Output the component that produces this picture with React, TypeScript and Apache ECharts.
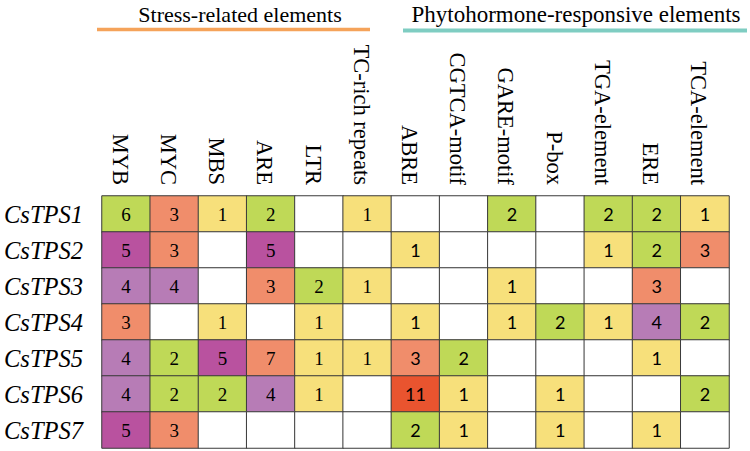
import React, { useEffect, useRef } from "react";
import * as echarts from "echarts";

const genes = ["CsTPS1", "CsTPS2", "CsTPS3", "CsTPS4", "CsTPS5", "CsTPS6", "CsTPS7"];
const stressElements = ["MYB", "MYC", "MBS", "ARE", "LTR", "TC-rich repeats"];
const hormoneElements = ["ABRE", "CGTCA-motif", "GARE-motif", "P-box", "TGA-element", "ERE", "TCA-element"];

// 0 = element absent (blank cell)
const stressCounts = [
  [6, 3, 1, 2, 0, 1],
  [5, 3, 0, 5, 0, 0],
  [4, 4, 0, 3, 2, 1],
  [3, 0, 1, 0, 1, 0],
  [4, 2, 5, 7, 1, 1],
  [4, 2, 2, 4, 1, 0],
  [5, 3, 0, 0, 0, 0],
];
const hormoneCounts = [
  [0, 0, 2, 0, 2, 2, 1],
  [1, 0, 0, 0, 1, 2, 3],
  [0, 0, 1, 0, 0, 3, 0],
  [1, 0, 1, 2, 1, 4, 2],
  [3, 2, 0, 0, 0, 1, 0],
  [11, 1, 0, 1, 0, 0, 2],
  [2, 1, 0, 1, 0, 1, 0],
];

const groupTitles = ["Stress-related elements", "Phytohormone-responsive elements"];

const colorPieces = [
  { value: 0, color: "#ffffff" },
  { value: 1, color: "#f7e07b" },
  { value: 2, color: "#bfd957" },
  { value: 3, color: "#f08d6b" },
  { value: 4, color: "#b77cb6" },
  { value: 5, color: "#b9529f" },
  { value: 6, color: "#bfd957" },
  { value: 7, color: "#f08d6b" },
  { value: 11, color: "#e9542f" },
];

const SERIF = "Liberation Serif";
const SANS = "Lato";

export default function App() {
  const ref = useRef<HTMLDivElement>(null);
  useEffect(() => {
    if (!ref.current) return;
    const chart = echarts.init(ref.current, undefined, { renderer: "svg" });
    const columns = [...stressElements, ...hormoneElements];
    const stressData: number[][] = [];
    const hormoneData: number[][] = [];
    genes.forEach((_, r) => {
      stressCounts[r].forEach((v, c) => stressData.push([c, r, v]));
      hormoneCounts[r].forEach((v, c) => hormoneData.push([c + stressElements.length, r, v]));
    });
    const labelFmt = (p: any) => (p.value[2] ? String(p.value[2]) : "");
    chart.setOption({
      animation: false,
      backgroundColor: "#ffffff",
      grid: [
        { left: 102, right: 21, top: 196, bottom: 3 },
        // label-only grid, set slightly left like the reference's column headers
        { left: 96, right: 27, top: 196, bottom: 3 },
      ],
      xAxis: [
        {
          type: "category",
          gridIndex: 0,
          position: "top",
          data: columns,
          axisLine: { show: false },
          axisTick: { show: false },
          splitLine: { show: false },
          axisLabel: { show: false },
        },
        {
          type: "category",
          gridIndex: 1,
          position: "top",
          data: columns,
          axisLine: { show: false },
          axisTick: { show: false },
          splitLine: { show: false },
          axisLabel: {
            interval: 0,
            rotate: 90,
            margin: 11,
            color: "#000",
            fontFamily: SERIF,
            fontSize: 22.5,
          },
        },
      ],
      yAxis: [
        {
          type: "category",
          gridIndex: 0,
          inverse: true,
          data: genes,
          axisLine: { show: false },
          axisTick: { show: false },
          splitLine: { show: false },
          axisLabel: {
            interval: 0,
            margin: 19,
            color: "#000",
            fontFamily: SERIF,
            fontStyle: "italic",
            fontSize: 24.5,
          },
        },
        {
          type: "category",
          gridIndex: 1,
          inverse: true,
          data: genes,
          show: false,
        },
      ],
      visualMap: {
        type: "piecewise",
        show: false,
        dimension: 2,
        seriesIndex: [0, 1],
        pieces: colorPieces,
      },
      graphic: [
        {
          type: "text",
          x: 240,
          y: 14,
          style: {
            text: groupTitles[0],
            fontFamily: SERIF,
            fontSize: 22,
            fill: "#000",
            align: "center",
            verticalAlign: "middle",
          },
        },
        {
          type: "text",
          x: 576,
          y: 14,
          style: {
            text: groupTitles[1],
            fontFamily: SERIF,
            fontSize: 23,
            fill: "#000",
            align: "center",
            verticalAlign: "middle",
          },
        },
        {
          type: "line",
          shape: { x1: 97, y1: 29.5, x2: 370, y2: 29.5 },
          style: { stroke: "#f5a35a", lineWidth: 3.5 },
        },
        {
          type: "line",
          shape: { x1: 403, y1: 30.5, x2: 747, y2: 30.5 },
          style: { stroke: "#7fcdc2", lineWidth: 4 },
        },
      ],
      series: [
        {
          type: "heatmap",
          xAxisIndex: 0,
          yAxisIndex: 0,
          data: stressData,
          itemStyle: { borderColor: "#3a3a3a", borderWidth: 1 },
          label: {
            show: true,
            formatter: labelFmt,
            color: "#000",
            fontFamily: SERIF,
            fontSize: 19,
          },
          emphasis: { disabled: true },
        },
        {
          type: "heatmap",
          xAxisIndex: 0,
          yAxisIndex: 0,
          data: hormoneData,
          itemStyle: { borderColor: "#3a3a3a", borderWidth: 1 },
          label: {
            show: true,
            formatter: labelFmt,
            color: "#000",
            fontFamily: SANS,
            fontSize: 18,
          },
          emphasis: { disabled: true },
        },
      ],
    });
    return () => chart.dispose();
  }, []);
  return (
    <div
      ref={ref}
      style={{ position: "fixed", left: 0, top: 0, width: 750, height: 451 }}
    />
  );
}
